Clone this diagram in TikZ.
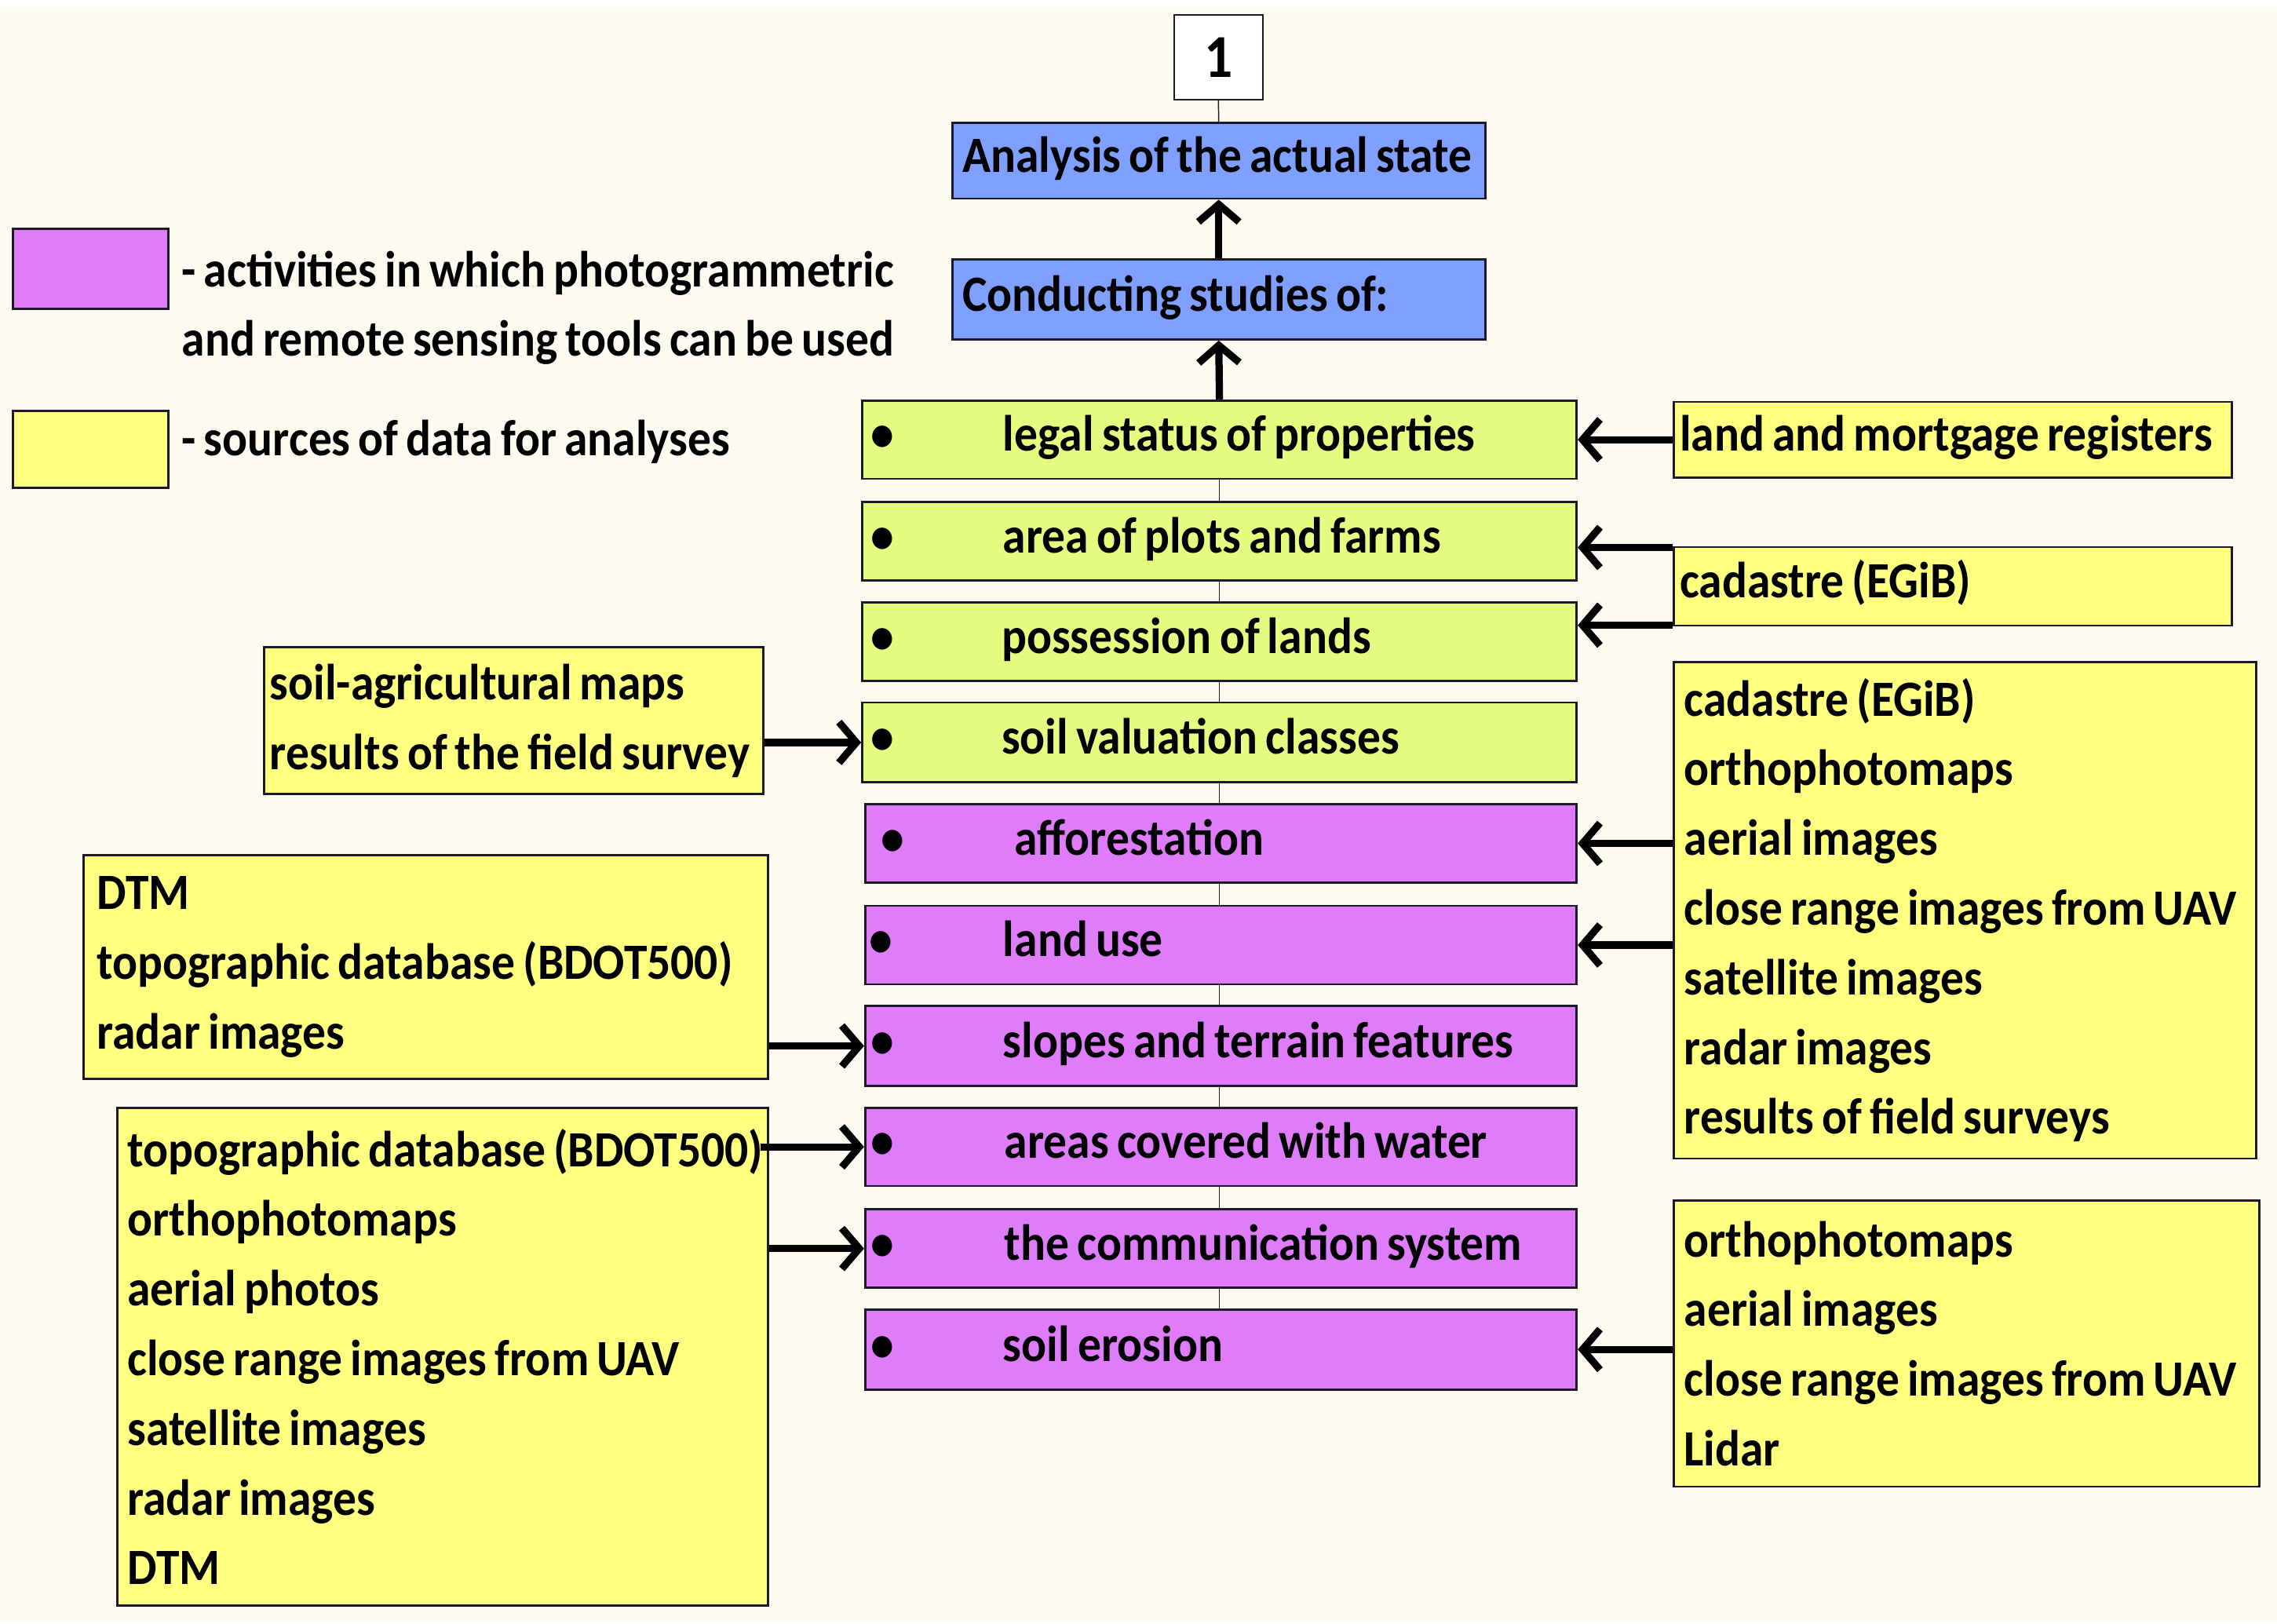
\documentclass[tikz,border=0pt]{standalone}
\usepackage{fontspec}
\setmainfont{Carlito}[FakeStretch=0.92, WordSpace=0.75]
\usetikzlibrary{arrows.meta,calc}
\definecolor{bgc}{RGB}{253,251,240}
\definecolor{bluebox}{RGB}{128,160,255}
\definecolor{greenbox}{RGB}{228,252,128}
\definecolor{purplebox}{RGB}{222,124,250}
\definecolor{yellowbox}{RGB}{255,255,128}
\definecolor{edge}{RGB}{30,25,40}
\hyphenpenalty=10000
\exhyphenpenalty=10000
\newcommand{\bul}[4]{\makebox[#1pt][l]{\hspace*{#2pt}\makebox[0pt]{\textbullet}\hspace*{\dimexpr#3pt-#2pt\relax}#4}}
\begin{document}
\begin{tikzpicture}[x=1pt,y=-1pt,
  every node/.style={font=\fontsize{35}{48}\selectfont\bfseries},
  box/.style={draw=edge, line width=1.5pt, anchor=north west, inner sep=0pt},
  mb/.style={box, text height=24pt, text depth=8pt, minimum height=54pt},
  grn/.style={mb, fill=greenbox, minimum width=492pt},
  pur/.style={mb, fill=purplebox, minimum width=490pt},
  src/.style={box, fill=yellowbox, align=flush left},
  arr/.style={line width=5pt, -{Straight Barb[length=12pt,width=28pt]}},
  conn/.style={line width=0.8pt, draw=edge}]
\fill[bgc] (0,0) rectangle (1568,1118);
\fill[white] (0,0) rectangle (1568,5);
\useasboundingbox (0,0) rectangle (1568,1118);

% legend
\node[box, fill=purplebox, minimum width=107pt, minimum height=55pt] (legp) at (8,157) {};
\node[box, fill=yellowbox, minimum width=107pt, minimum height=53pt] (legy) at (8,282) {};
\node[anchor=west, align=flush left, inner sep=0pt] (legpt) at (125,212) {- activities in which photogrammetric\\and remote sensing tools can be used};
\node[anchor=west, inner sep=0pt, text height=24pt, text depth=8pt] (legyt) at (125,306) {- sources of data for analyses};

% top
\node[box, fill=white, line width=1pt, minimum width=61pt, minimum height=58pt, font=\fontsize{42}{48}\selectfont\bfseries] (one) at (808,10) {1};
\node[box, fill=bluebox, minimum width=367pt, minimum height=52pt, text width=353pt, inner xsep=7pt, align=flush left, text height=24pt, text depth=8pt] (ana) at (655,84) {Analysis of the actual state};
\node[box, fill=bluebox, minimum width=367pt, minimum height=55pt, text width=353pt, inner xsep=7pt, align=flush left, text height=24pt, text depth=8pt] (con) at (655,178) {Conducting studies of:};

% main column
\node[grn] (legal) at (593,275) {\bul{492}{14}{97}{legal status of properties}};
\node[grn] (area) at (593,345) {\bul{492}{14}{97}{area of plots and farms}};
\node[grn] (poss) at (593,414) {\bul{492}{14}{96}{possession of lands}};
\node[grn, minimum height=55pt] (soilv) at (593,483) {\bul{492}{14}{96}{soil valuation classes}};
\node[pur] (aff) at (595,553) {\bul{490}{19}{103}{afforestation}};
\node[pur] (lu) at (595,623) {\bul{490}{11}{95}{land use}};
\node[pur, minimum height=55pt] (slo) at (595,692) {\bul{490}{12}{95}{slopes and terrain features}};
\node[pur] (wat) at (595,762) {\bul{490}{12}{96}{areas covered with water}};
\node[pur] (com) at (595,832) {\bul{490}{12}{96}{the communication system}};
\node[pur, minimum height=55pt] (ero) at (595,901) {\bul{490}{12}{95}{soil erosion}};

% right sources
\node[src, minimum width=384pt, minimum height=52pt, text width=376pt, inner xsep=4pt, text height=24pt, text depth=8pt] (lmr) at (1152,276) {land and mortgage registers};
\node[src, minimum width=384pt, minimum height=54pt, text width=376pt, inner xsep=4pt, text height=24pt, text depth=8pt] (cad) at (1152,376) {cadastre (EGiB)};
\node[src, minimum width=401pt, minimum height=342pt, text width=387pt, inner xsep=7pt] (rb) at (1152,455) {cadastre (EGiB)\\orthophotomaps\\aerial images\\close range images from UAV\\satellite images\\radar images\\results of field surveys};
\node[src, minimum width=403pt, minimum height=197pt, text width=389pt, inner xsep=7pt] (rb2) at (1152,826) {orthophotomaps\\aerial images\\close range images from UAV\\Lidar};

% left sources
\node[src, minimum width=344pt, minimum height=101pt, text width=336pt, inner xsep=4pt] (sam) at (181,445) {soil-agricultural maps\\results of the field survey};
\node[src, minimum width=471pt, minimum height=154pt, text width=453pt, inner xsep=9pt] (dtm) at (57,588) {DTM\\topographic database (BDOT500)\\radar images};
\node[src, minimum width=448pt, minimum height=343pt, text width=434pt, inner xsep=7pt] (lb) at (80,762) {\rlap{topographic database (BDOT500)}\\orthophotomaps\\aerial photos\\close range images from UAV\\satellite images\\radar images\\DTM};

% thin connectors
\draw[conn] (one.south) -- (ana.north);
\draw[conn] (legal.south) -- (area.north);
\draw[conn] (area.south) -- (poss.north);
\draw[conn] (poss.south) -- (soilv.north);
\draw[conn] (soilv.south) -- (aff.north -| soilv.south);
\draw[conn] (aff.south -| soilv.south) -- (lu.north -| soilv.south);
\draw[conn] (lu.south -| soilv.south) -- (slo.north -| soilv.south);
\draw[conn] (slo.south -| soilv.south) -- (wat.north -| soilv.south);
\draw[conn] (wat.south -| soilv.south) -- (com.north -| soilv.south);
\draw[conn] (com.south -| soilv.south) -- (ero.north -| soilv.south);

% arrows
\draw[arr] (legal.north) -- (con.south);
\draw[arr] (con.north) -- (ana.south);
\draw[arr] (lmr.west) -- (lmr.west -| legal.east);
\draw[arr] ([yshift=-1pt]cad.north west) -- ([yshift=-1pt]cad.north west -| area.east);
\draw[arr] ([yshift=1pt]cad.south west) -- ([yshift=1pt]cad.south west -| poss.east);
\draw[arr] (rb.west |- aff.east) -- (aff.east);
\draw[arr] (rb.west |- lu.east) -- (lu.east);
\draw[arr] (rb2.west |- ero.east) -- (ero.east);
\draw[arr] (sam.east |- soilv.west) -- (soilv.west);
\draw[arr] (dtm.east |- slo.west) -- (slo.west);
\draw[arr] ([xshift=-6pt]lb.east |- wat.west) -- (wat.west);
\draw[arr] (lb.east |- com.west) -- (com.west);
\end{tikzpicture}
\end{document}
